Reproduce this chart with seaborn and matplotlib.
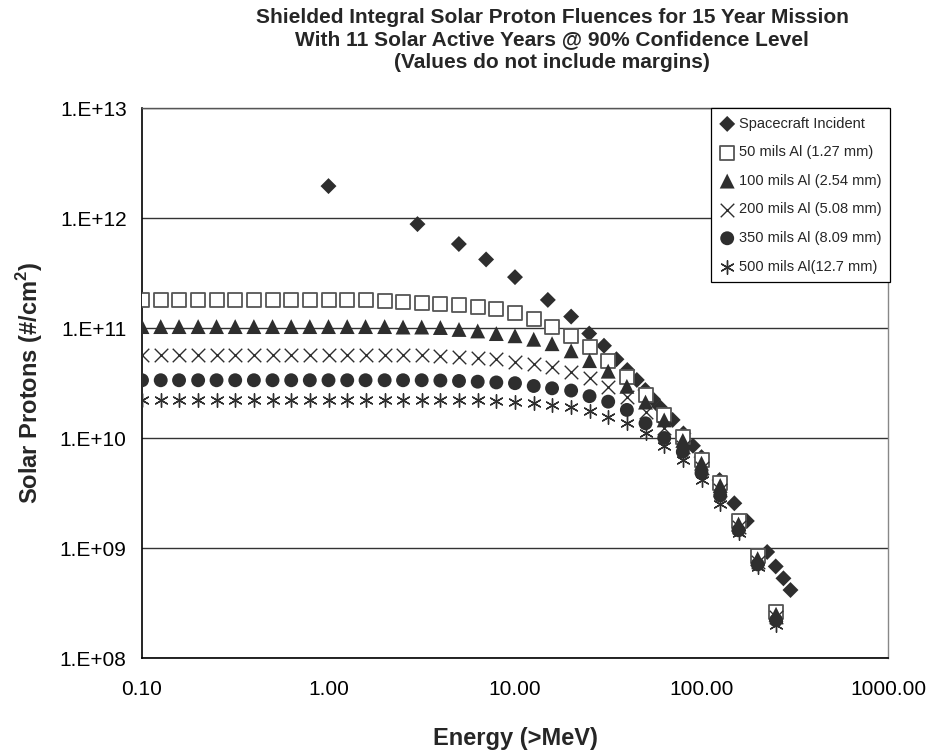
import matplotlib
matplotlib.use("Agg")
import matplotlib.pyplot as plt
import seaborn as sns
import pandas as pd
from matplotlib.ticker import NullLocator

# ---------------- data ----------------
title_text = ("Shielded Integral Solar Proton Fluences for 15 Year Mission\n"
              "With 11 Solar Active Years @ 90% Confidence Level\n"
              "(Values do not include margins)")
x_label = "Energy (>MeV)"
y_label = "Solar Protons (#/cm$^{\\mathregular{2}}$)"

x_ticks = [0.1, 1, 10, 100, 1000]
x_tick_labels = ["0.10", "1.00", "10.00", "100.00", "1000.00"]
y_ticks = [1e8, 1e9, 1e10, 1e11, 1e12, 1e13]
y_tick_labels = ["1.E+08", "1.E+09", "1.E+10", "1.E+11", "1.E+12", "1.E+13"]

series_names = ["Spacecraft Incident", "50 mils Al (1.27 mm)", "100 mils Al (2.54 mm)",
                "200 mils Al (5.08 mm)", "350 mils Al (8.09 mm)", "500 mils Al(12.7 mm)"]

incident_energy = [1, 3, 5, 7, 10, 15, 20, 25, 30, 35, 40, 45, 50, 55, 60, 70, 80, 90,
                   100, 125, 150, 175, 225, 250, 275, 300]
incident_fluence = [1.95e12, 8.8e11, 5.8e11, 4.2e11, 2.9e11, 1.8e11, 1.27e11, 8.9e10,
                    6.9e10, 5.2e10, 4.15e10, 3.37e10, 2.73e10, 2.25e10, 1.9e10, 1.46e10,
                    1.1e10, 8.5e9, 6.7e9, 4.15e9, 2.55e9, 1.76e9, 9.2e8, 6.8e8, 5.3e8, 4.15e8]

shield_energy = [0.1, 0.126, 0.158, 0.2, 0.251, 0.316, 0.398, 0.501, 0.631, 0.794,
                 1.0, 1.26, 1.58, 2.0, 2.51, 3.16, 3.98, 5.01, 6.31, 7.94,
                 10.0, 12.6, 15.8, 20.0, 25.1, 31.6, 39.8, 50.1, 63.1, 79.4,
                 100.0, 126.0, 158.0, 200.0, 251.0]

al_50 = [1.8e11, 1.8e11, 1.8e11, 1.8e11, 1.8e11, 1.8e11, 1.8e11, 1.8e11, 1.8e11, 1.8e11,
         1.8e11, 1.8e11, 1.79e11, 1.77e11, 1.74e11, 1.70e11, 1.65e11, 1.62e11, 1.56e11, 1.48e11,
         1.36e11, 1.2e11, 1.03e11, 8.5e10, 6.7e10, 5.0e10, 3.56e10, 2.45e10, 1.62e10, 1.02e10,
         6.3e9, 3.9e9, 1.76e9, 8.5e8, 2.6e8]
al_100 = [1.03e11, 1.03e11, 1.03e11, 1.03e11, 1.03e11, 1.03e11, 1.03e11, 1.03e11, 1.03e11, 1.03e11,
          1.03e11, 1.03e11, 1.03e11, 1.03e11, 1.02e11, 1.02e11, 1.01e11, 9.7e10, 9.4e10, 8.9e10,
          8.5e10, 7.9e10, 7.2e10, 6.2e10, 5.05e10, 4.05e10, 2.95e10, 2.12e10, 1.46e10, 9.5e9,
          5.9e9, 3.7e9, 1.65e9, 8.0e8, 2.5e8]
al_200 = [5.7e10, 5.7e10, 5.7e10, 5.7e10, 5.7e10, 5.7e10, 5.7e10, 5.7e10, 5.7e10, 5.7e10,
          5.7e10, 5.7e10, 5.7e10, 5.7e10, 5.7e10, 5.65e10, 5.6e10, 5.5e10, 5.3e10, 5.2e10,
          4.9e10, 4.7e10, 4.45e10, 4.0e10, 3.5e10, 2.9e10, 2.34e10, 1.74e10, 1.23e10, 8.3e9,
          5.3e9, 3.4e9, 1.55e9, 7.5e8, 2.35e8]
al_350 = [3.35e10, 3.35e10, 3.35e10, 3.35e10, 3.35e10, 3.35e10, 3.35e10, 3.35e10, 3.35e10, 3.35e10,
          3.35e10, 3.35e10, 3.35e10, 3.35e10, 3.35e10, 3.35e10, 3.33e10, 3.3e10, 3.25e10, 3.2e10,
          3.15e10, 2.97e10, 2.83e10, 2.7e10, 2.4e10, 2.14e10, 1.8e10, 1.36e10, 1.0e10, 7.5e9,
          4.8e9, 3.0e9, 1.45e9, 7.1e8, 2.2e8]
al_500 = [2.22e10, 2.22e10, 2.22e10, 2.22e10, 2.22e10, 2.22e10, 2.22e10, 2.22e10, 2.22e10, 2.22e10,
          2.22e10, 2.22e10, 2.22e10, 2.22e10, 2.22e10, 2.22e10, 2.22e10, 2.21e10, 2.2e10, 2.18e10,
          2.14e10, 2.07e10, 2.0e10, 1.9e10, 1.77e10, 1.56e10, 1.36e10, 1.1e10, 8.5e9, 6.3e9,
          4.15e9, 2.5e9, 1.38e9, 6.7e8, 2.0e8]

# ---------------- styling ----------------
sns.set_style("white")
plt.rcParams["font.family"] = ["Liberation Sans", "DejaVu Sans"]

dark = "#2e2e2e"
fig = plt.figure(figsize=(9.3, 7.5), dpi=100)
ax = fig.add_axes([142 / 930, 1 - 658 / 750, 746 / 930, 550 / 750])

styles = [
    dict(marker="D", s=66, color=dark, edgecolor="none"),
    dict(marker="s", s=88, color=dark, facecolor="white", edgecolor="#555555", linewidths=1.3),
    dict(marker="^", s=115, color=dark, edgecolor="none"),
    dict(marker="x", s=95, color=dark, linewidths=1.0),
    dict(marker="o", s=100, color=dark, edgecolor="none"),
    dict(marker=(6, 2, 0), s=95, color=dark, linewidths=1.0),
]

frames = [pd.DataFrame({"energy": incident_energy, "fluence": incident_fluence})]
for vals in [al_50, al_100, al_200, al_350, al_500]:
    frames.append(pd.DataFrame({"energy": shield_energy, "fluence": vals}))

for df, name, st in zip(frames, series_names, styles):
    sns.scatterplot(data=df, x="energy", y="fluence", ax=ax, label=name, zorder=3, **st)

ax.set_xscale("log")
ax.set_yscale("log")
ax.set_xlim(0.1, 1000)
ax.set_ylim(1e8, 1e13)
ax.set_xticks(x_ticks)
ax.set_xticklabels(x_tick_labels)
ax.set_yticks(y_ticks)
ax.set_yticklabels(y_tick_labels)
ax.xaxis.set_minor_locator(NullLocator())
ax.yaxis.set_minor_locator(NullLocator())
ax.tick_params(axis="both", which="major", direction="out", length=5, width=1,
               color="black", labelsize=15, labelcolor="black")
ax.tick_params(axis="x", pad=11)
ax.tick_params(axis="y", pad=6)
ax.set_xlabel("")
ax.set_ylabel("")

ax.yaxis.grid(True, color="#333333", linewidth=1.0, zorder=0)
ax.xaxis.grid(False)
ax.set_axisbelow(True)

for side in ["left", "bottom"]:
    ax.spines[side].set_color("black")
    ax.spines[side].set_linewidth(1.2)
ax.spines["top"].set_color("#555555")
ax.spines["right"].set_color("#888888")
for side in ["top", "right"]:
    ax.spines[side].set_linewidth(1.0)
    ax.spines[side].set_visible(True)

leg = ax.legend(loc="upper right", bbox_to_anchor=(1.003, 1.0), borderaxespad=0,
                fontsize=10.5, frameon=True, fancybox=False, framealpha=1,
                edgecolor="black", handletextpad=0.3, handlelength=1.0,
                labelspacing=1.0, borderpad=0.6, markerscale=1.0)
leg.get_frame().set_linewidth(0.9)
leg.set_zorder(5)

fig.text(552 / 930, 1 - 40 / 750, title_text, ha="center", va="center",
         fontsize=15, fontweight="bold", linespacing=1.25)
fig.text(515 / 930, 1 - 739 / 750, x_label, ha="center", va="center",
         fontsize=17, fontweight="bold")
fig.text(30 / 930, 1 - 383 / 750, y_label, ha="center", va="center", rotation=90,
         fontsize=17, fontweight="bold")

fig.savefig("out.png", dpi=100)
